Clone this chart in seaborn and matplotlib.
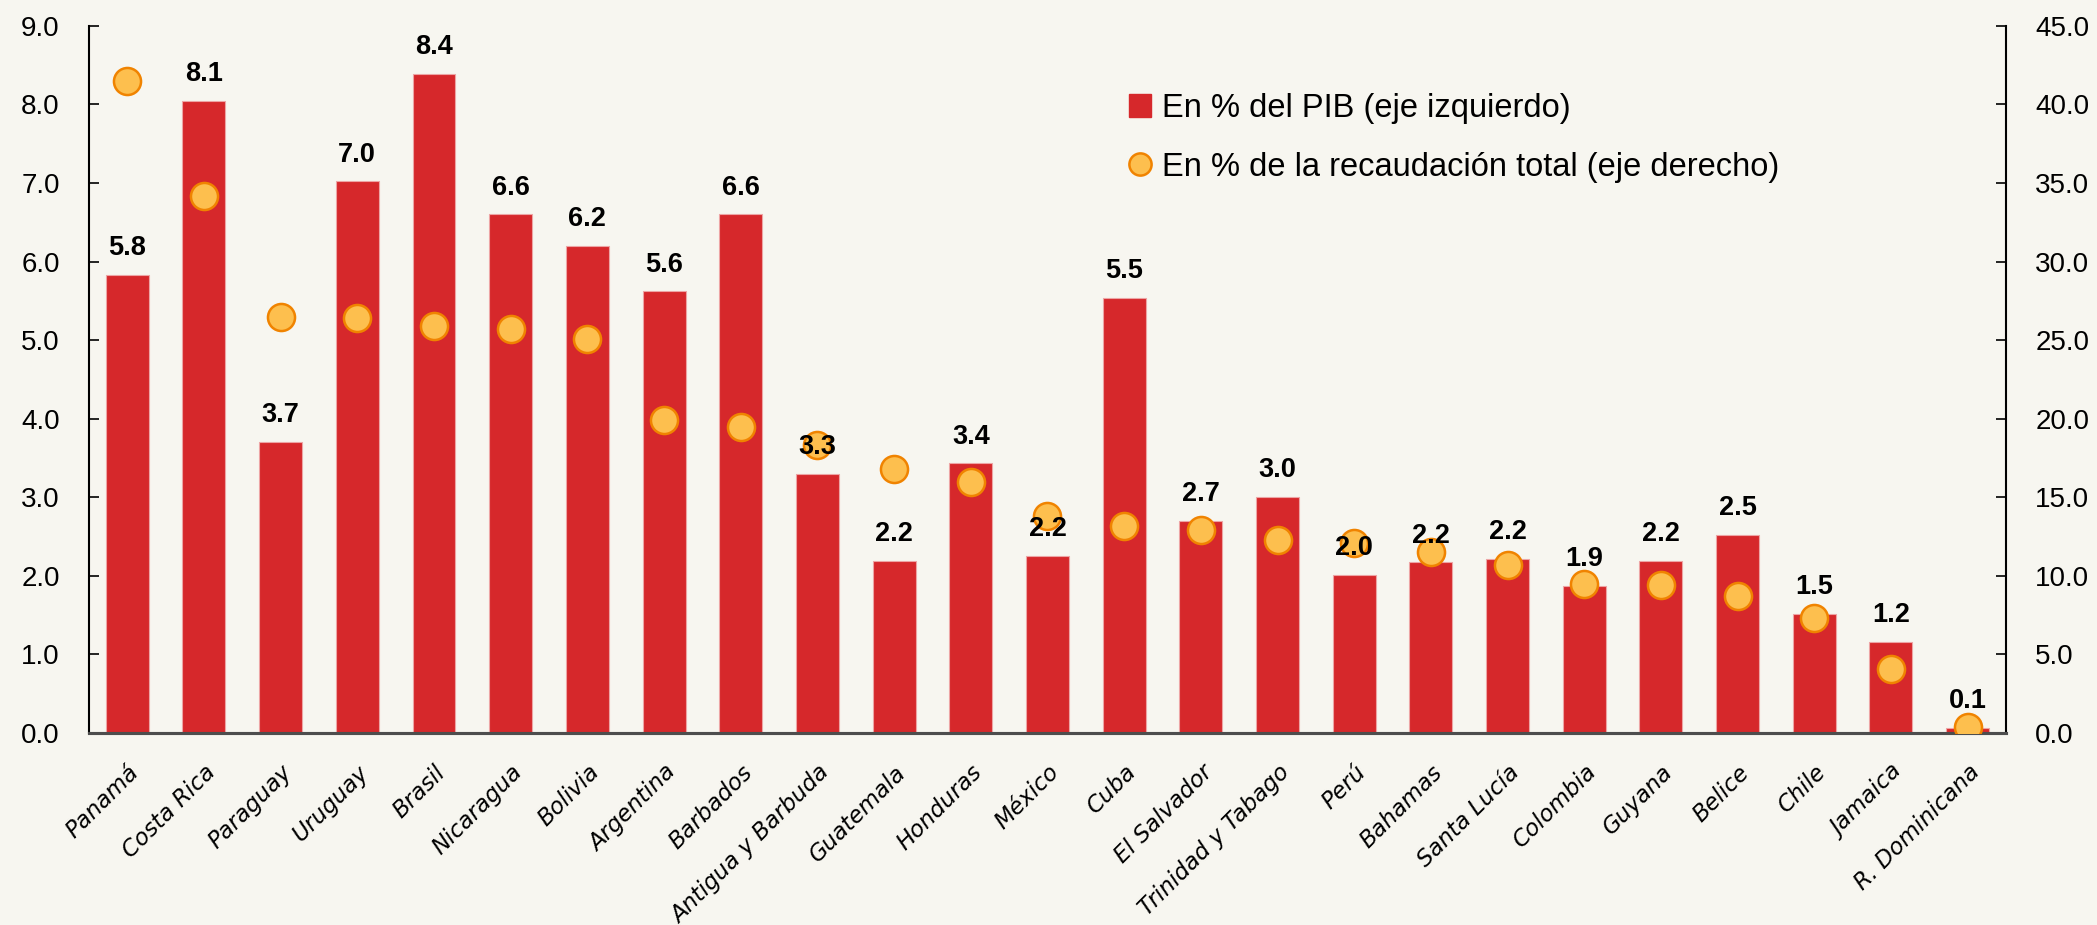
import matplotlib
matplotlib.use("Agg")
import matplotlib.pyplot as plt
from matplotlib.patches import Patch
from matplotlib.lines import Line2D
import seaborn as sns
import pandas as pd

paises = ["Panamá", "Costa Rica", "Paraguay", "Uruguay", "Brasil", "Nicaragua",
          "Bolivia", "Argentina", "Barbados", "Antigua y Barbuda", "Guatemala",
          "Honduras", "México", "Cuba", "El Salvador", "Trinidad y Tabago", "Perú",
          "Bahamas", "Santa Lucía", "Colombia", "Guyana", "Belice", "Chile",
          "Jamaica", "R. Dominicana"]
pct_pib = [5.83, 8.05, 3.7, 7.02, 8.39, 6.6, 6.2, 5.62, 6.6, 3.3, 2.19, 3.43, 2.25,
           5.54, 2.7, 3.0, 2.01, 2.17, 2.21, 1.87, 2.19, 2.52, 1.52, 1.16, 0.06]
pct_recaudacion = [41.5, 34.2, 26.5, 26.4, 25.9, 25.7, 25.1, 19.9, 19.5, 18.3, 16.8,
                   16.0, 13.8, 13.2, 12.9, 12.3, 12.1, 11.5, 10.7, 9.5, 9.4, 8.7,
                   7.3, 4.1, 0.4]

df = pd.DataFrame({"pais": paises, "pib": pct_pib, "rec": pct_recaudacion})

fondo = "#F7F6F0"
rojo = "#D6282B"
amarillo = "#FDBF4E"
naranja = "#F08300"
fuente = ["Liberation Sans", "DejaVu Sans"]

sns.set_style("ticks")
plt.rcParams["font.family"] = ["DejaVu Sans"]
plt.rcParams["text.color"] = "black"
plt.rcParams["xtick.color"] = "black"
plt.rcParams["ytick.color"] = "black"

fig, ax = plt.subplots(figsize=(20.97, 9.25), dpi=100)
fig.patch.set_facecolor(fondo)
ax.set_facecolor(fondo)
fig.subplots_adjust(left=0.0424, right=0.9566, top=0.972, bottom=0.2076)

# barras: eje izquierdo
sns.barplot(data=df, x="pais", y="pib", ax=ax, color=rojo, width=0.56,
            saturation=1, edgecolor="#EDA5A5", linewidth=0.8, zorder=2)
ax.set_ylim(0, 9)
ax.set_xlim(-0.5, len(paises) - 0.5)
ax.set_yticks(range(0, 10))
ax.set_yticklabels([f"{v:.1f}" for v in range(0, 10)], family=fuente, fontsize=20)

# puntos: eje derecho
ax2 = ax.twinx()
sns.scatterplot(data=df, x="pais", y="rec", ax=ax2, s=380, color=amarillo,
                edgecolor=naranja, linewidth=1.8, zorder=3, legend=False)
ax2.set_ylim(0, 45)
ax2.set_yticks(range(0, 50, 5))
ax2.set_yticklabels([f"{v:.1f}" for v in range(0, 50, 5)], family=fuente, fontsize=20)

# etiquetas de las barras (encima de los puntos)
for i, v in enumerate(pct_pib):
    ax2.annotate(f"{v:.1f}", xy=(i, v), xycoords=ax.transData, xytext=(0, 10),
                 textcoords="offset points", ha="center", va="bottom",
                 fontsize=19.5, fontweight="bold", family=fuente, zorder=10)

ax.set_xlabel("")
ax.set_ylabel("")
ax2.set_ylabel("")
ax2.set_xlabel("")
ax.tick_params(axis="x", length=0, pad=20)
ax.set_xticks(range(len(paises)))
ax.set_xticklabels(paises, rotation=45, ha="right", rotation_mode="anchor",
                   fontsize=16.5, style="italic")
ax.tick_params(axis="y", direction="in", length=7, width=1.2, pad=21)
ax2.tick_params(axis="y", direction="in", length=7, width=1.2, pad=21)

for a in (ax, ax2):
    a.spines["top"].set_visible(False)
    a.spines["left"].set_linewidth(1.5)
    a.spines["right"].set_linewidth(1.5)
    a.spines["left"].set_color("black")
    a.spines["right"].set_color("black")
    a.spines["bottom"].set_linewidth(2.2)
    a.spines["bottom"].set_color("#4d4d4d")
ax2.spines["left"].set_visible(False)
ax.spines["right"].set_visible(False)

handles = [Patch(facecolor=rojo, edgecolor=rojo),
           Line2D([], [], marker="o", linestyle="", markersize=16,
                  markerfacecolor=amarillo, markeredgecolor=naranja, markeredgewidth=1.8)]
labels = ["En % del PIB (eje izquierdo)", "En % de la recaudación total (eje derecho)"]
ax2.legend(handles, labels, loc="upper left", bbox_to_anchor=(0.5426, 0.905),
           frameon=False, prop={"family": fuente, "size": 23.5}, handlelength=0.66,
           handletextpad=0.34, labelspacing=0.85, borderpad=0, borderaxespad=0)

plt.savefig("out.png", dpi=100, facecolor=fondo)
